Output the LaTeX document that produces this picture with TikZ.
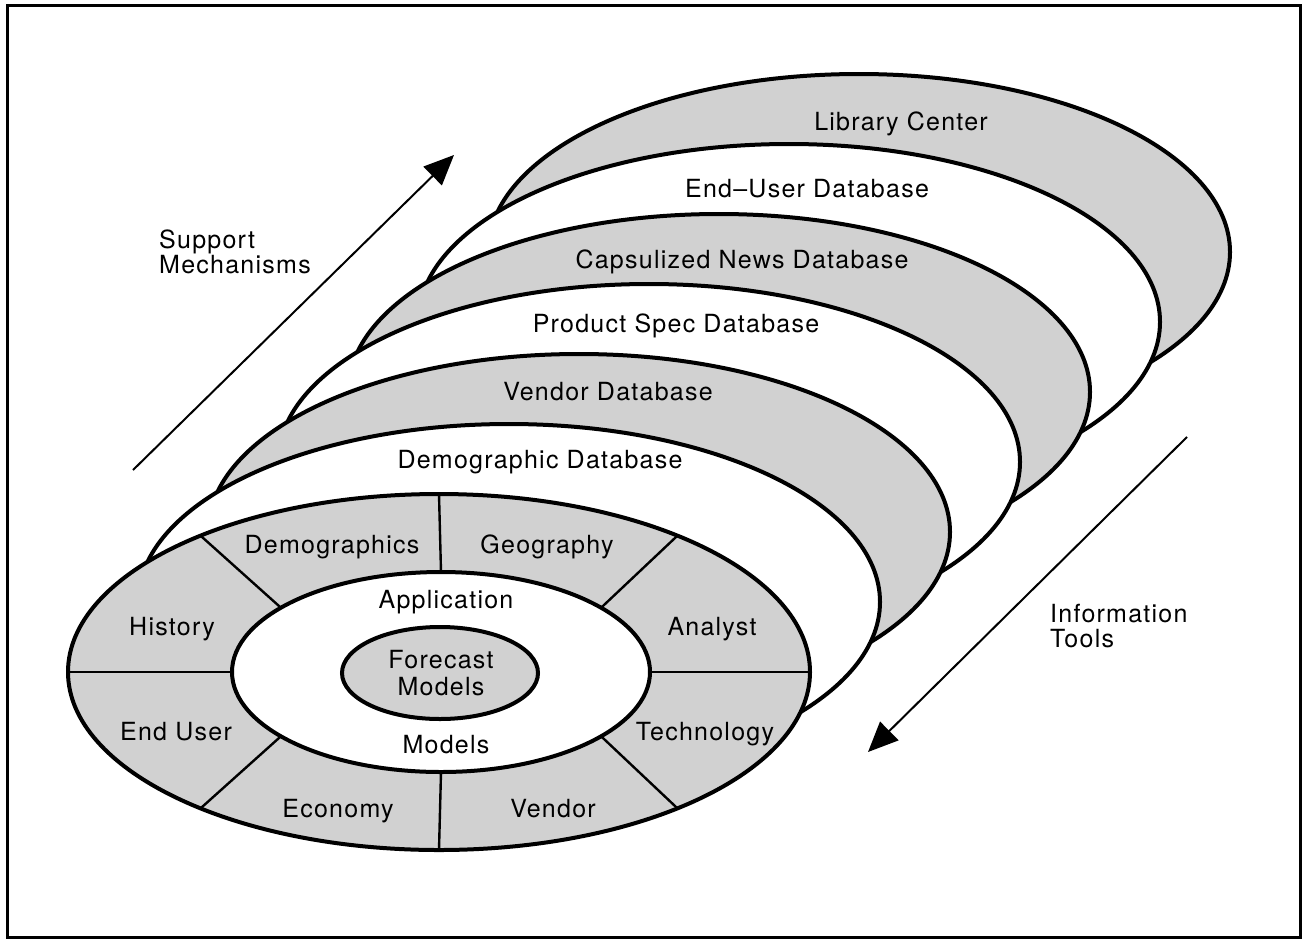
\documentclass[tikz,border=0pt]{standalone}
\usepackage{fontspec}
\setmainfont{TeX Gyre Heros}[LetterSpace=5]
\usetikzlibrary{arrows.meta,calc}
\definecolor{dotgray}{gray}{0.82}
\tikzset{
  lab/.style={font=\fontsize{25pt}{25pt}\selectfont, anchor=base, inner sep=0pt},
  labl/.style={font=\fontsize{25pt}{25pt}\selectfont, anchor=base west, inner sep=0pt},
  outline/.style={line width=4pt},
  spoke/.style={line width=2.4pt},
  flow/.style={line width=2pt, -{Triangle[length=30pt,width=26pt]}}
}
\begin{document}
\begin{tikzpicture}[x=1pt,y=-1pt]
\useasboundingbox (0,0) rectangle (1308,940);
\draw[line width=3pt] (7,5) rectangle (1300,937);

% stacked database layers, back to front
\foreach \k/\col in {6/dotgray,5/white,4/dotgray,3/white,2/dotgray,1/white}{
  \filldraw[outline, fill=\col] ({439+70*\k},{672-70*\k}) ellipse [x radius=371pt, y radius=178pt];
}

% front wheel
\coordinate (c) at (439,672);
\filldraw[outline, fill=dotgray] (c) ellipse [x radius=371pt, y radius=178pt];
\foreach \a/\b in {90/90,130/140,180/180,230/220,270/270,310/320,0/0,50/40}{
  \draw[spoke] ($(c)+(\a:371pt and 178pt)$) -- ($(441,672)+(\b:209pt and 100pt)$);
}
\filldraw[outline, fill=white] (441,672) ellipse [x radius=209pt, y radius=100pt];
\filldraw[outline, fill=dotgray] (440,673) ellipse [x radius=98pt, y radius=46pt];

% layer labels
\node[lab] (lib) at (901,130) {Library Center};
\node[lab] (eud) at (807,197) {End--User Database};
\node[lab] (cnd) at (742,268) {Capsulized News Database};
\node[lab] (psd) at (676,332) {Product Spec Database};
\node[lab] (vdb) at (608,400) {Vendor Database};
\node[lab] (ddb) at (540,468) {Demographic Database};

% wheel labels
\node[lab] (dem) at (332,553) {Demographics};
\node[lab] (geo) at (547,553) {Geography};
\node[lab] (app) at (446,608) {Application};
\node[lab] (his) at (172,635) {History};
\node[lab] (ana) at (712,635) {Analyst};
\node[lab] (fc1) at (441,668) {Forecast};
\node[lab] (fc2) at (441,695) {Models};
\node[lab] (eus) at (176,740) {End User};
\node[lab] (tec) at (705,740) {Technology};
\node[lab] (mod) at (446,753) {Models};
\node[lab] (eco) at (338,817) {Economy};
\node[lab] (ven) at (553,817) {Vendor};

% side arrows
\coordinate (s0) at (133,470);
\coordinate (s1) at (454,155);
\draw[flow] (s0) -- (s1);
\node[labl] (sm1) at (159,248) {Support};
\node[labl] (sm2) at (159,273) {Mechanisms};

\coordinate (t0) at (1187,437);
\coordinate (t1) at (868,752);
\draw[flow] (t0) -- (t1);
\node[labl] (it1) at (1050,622) {Information};
\node[labl] (it2) at (1050,647) {Tools};
\end{tikzpicture}
\end{document}
